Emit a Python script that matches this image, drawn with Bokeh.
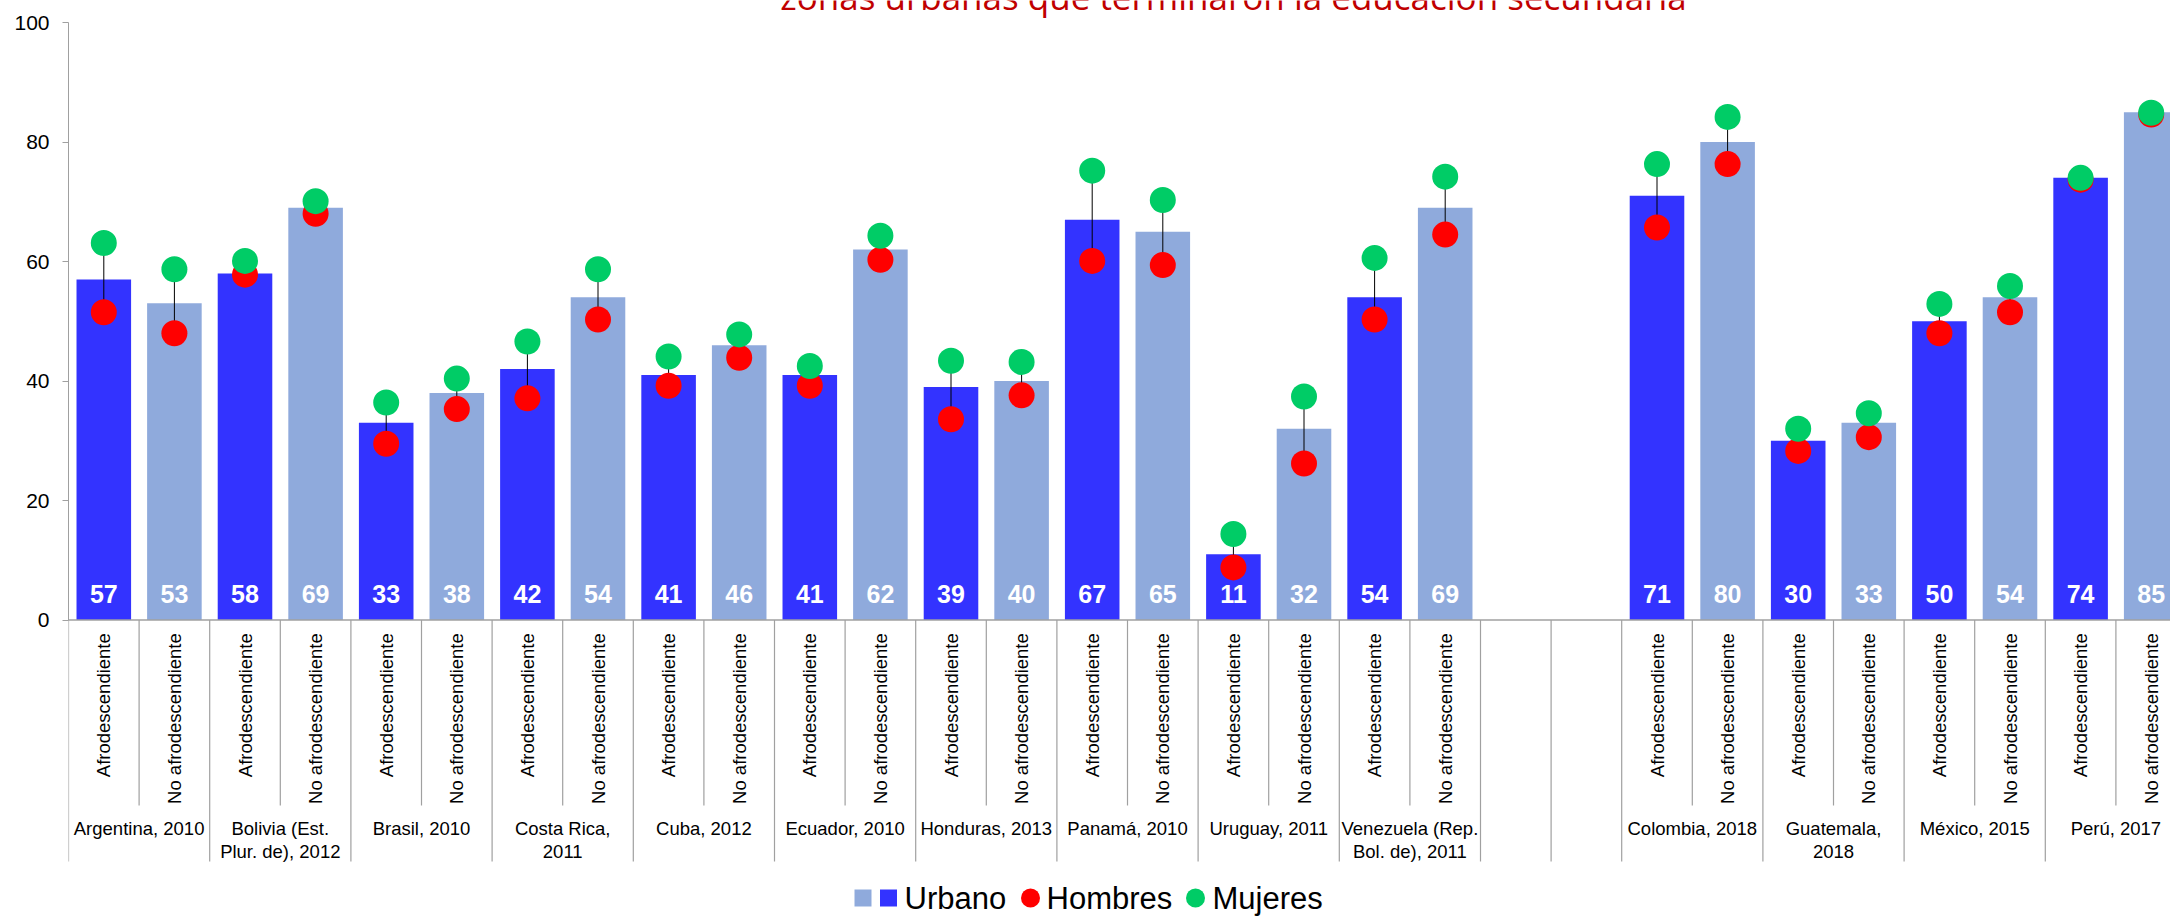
import numpy as np
from bokeh.plotting import figure
from bokeh.models import ColumnDataSource, Range1d, FixedTicker, Span, Label
from bokeh.core.properties import value
from bokeh.embed import file_html
from bokeh.resources import INLINE

# ---------------- data ----------------
titulo = "zonas urbanas que terminaron la educación secundaria"
paises = ["Argentina, 2010", "Bolivia (Est.\nPlur. de), 2012", "Brasil, 2010",
          "Costa Rica,\n2011", "Cuba, 2012", "Ecuador, 2010", "Honduras, 2013",
          "Panamá, 2010", "Uruguay, 2011", "Venezuela (Rep.\nBol. de), 2011",
          "Colombia, 2018", "Guatemala,\n2018", "México, 2015", "Perú, 2017"]
subgrupos = ["Afrodescendiente", "No afrodescendiente"]
urbano_afro = [57, 58, 33, 42, 41, 41, 39, 67, 11, 54, 71, 30, 50, 74]
urbano_no_afro = [53, 69, 38, 54, 46, 62, 40, 65, 32, 69, 80, 33, 54, 85]
hombres_afro = [51.5, 57.8, 29.5, 37.1, 39.2, 39.2, 33.6, 60.1, 8.8, 50.3, 65.7, 28.3, 48.0, 73.7]
hombres_no_afro = [48.0, 68.0, 35.3, 50.3, 43.9, 60.3, 37.6, 59.4, 26.2, 64.5, 76.3, 30.6, 51.5, 84.6]
mujeres_afro = [63.1, 60.1, 36.4, 46.6, 44.1, 42.5, 43.4, 75.2, 14.4, 60.6, 76.3, 32.0, 52.9, 74.0]
mujeres_no_afro = [58.7, 70.1, 40.4, 58.7, 47.8, 64.3, 43.2, 70.3, 37.4, 74.2, 84.2, 34.6, 55.9, 84.9]
n_censos = 10          # countries before the blank gap
ticks_y = [0, 20, 40, 60, 80, 100]
leyenda = ["Urbano", "Hombres", "Mujeres"]

# ---------------- style / layout ----------------
C_AFRO, C_NO = "#3333FF", "#8FAADC"
C_H, C_M = "#FF0000", "#00CC66"
GRAY = "#A0A0A0"
FONT = "Liberation Sans"
W, H = 2170, 918
LEFT = 68
SLOT_PX = 70.6
PX_UNIT = 5.975
TOP_PAD_PX = 22
HUECO = 2
BAR_W = 0.773

x_end = (W - LEFT) / SLOT_PX
y_end = 100 + TOP_PAD_PX / PX_UNIT
y_start = y_end - H / PX_UNIT


def below(px):
    """data y for a point px pixels below the zero line"""
    return -px / PX_UNIT


def dx(px):
    return (px - LEFT) / SLOT_PX


n = len(paises)
base = [2 * i + (HUECO if i >= n_censos else 0) for i in range(n)]
x_afro = [b + 0.5 for b in base]
x_no = [b + 1.5 for b in base]

p = figure(width=W, height=H, x_range=Range1d(0, x_end), y_range=Range1d(y_start, y_end),
           output_backend="svg", toolbar_location=None, x_axis_location=None,
           min_border_left=LEFT, min_border_right=0, min_border_top=0, min_border_bottom=0)
p.outline_line_color = None
p.background_fill_color = "white"
p.border_fill_color = "white"
p.ygrid.grid_line_color = None
p.xgrid.grid_line_color = None

ax = p.yaxis[0]
ax.ticker = FixedTicker(ticks=ticks_y)
ax.bounds = (0, 100)
ax.axis_line_color = GRAY
ax.major_tick_line_color = GRAY
ax.major_tick_in = 0
ax.major_tick_out = 6
ax.minor_tick_line_color = None
ax.major_label_text_font = FONT
ax.major_label_text_font_size = "21px"
ax.major_label_text_color = "black"
ax.major_label_standoff = 13

# bars
urb = urbano_afro + urbano_no_afro
src_bar = ColumnDataSource(dict(
    x=x_afro + x_no, top=urb,
    color=[C_AFRO] * n + [C_NO] * n,
    label=[str(int(round(v))) for v in urb]))
p.vbar(x="x", top="top", bottom=0, width=BAR_W, fill_color="color", line_color=None, source=src_bar)

# zero line
p.add_layout(Span(location=0, dimension="width", line_color=GRAY, line_width=1.5))

# separators below the axis
inner = [b + 1 for b in base]
bounds = sorted(set(base) | {b + 2 for b in base} | {2 * n_censos + k for k in range(HUECO + 1)})
p.segment(x0=inner, x1=inner, y0=[0] * len(inner), y1=[below(185.5)] * len(inner),
          line_color=GRAY, line_width=1.2)
p.segment(x0=bounds, x1=bounds, y0=[0] * len(bounds), y1=[below(241.5)] * len(bounds),
          line_color=GRAY, line_width=1.2)

# connectors and dots
xs = x_afro + x_no
hom = hombres_afro + hombres_no_afro
muj = mujeres_afro + mujeres_no_afro
p.segment(x0=xs, x1=xs, y0=hom, y1=muj, line_color="black", line_width=1)
p.scatter(x=xs, y=hom, size=26, fill_color=C_H, line_color=None)
p.scatter(x=xs, y=muj, size=26, fill_color=C_M, line_color=None)

# value labels
p.text(x="x", y=26 / PX_UNIT, text="label", source=src_bar, text_color="white",
       text_font=value(FONT), text_font_style="bold", text_font_size="25px",
       text_align="center", text_baseline="middle")

# rotated sub-category labels
p.text(x=xs, y=[below(13.2)] * len(xs), text=[subgrupos[0]] * n + [subgrupos[1]] * n,
       angle=np.pi / 2, text_align="right", text_baseline="middle",
       text_font=value(FONT), text_font_size="18.5px", text_color="black")

# group labels
p.text(x=inner, y=[below(197.5)] * n, text=paises, text_align="center", text_baseline="top",
       text_font=value(FONT), text_font_size="18.5px", text_color="black", text_line_height=1.13)

# legend (manual, to reproduce the double swatch)
LEG_Y = below(278)
p.scatter(x=[dx(862.5)], y=[LEG_Y], marker="square", size=17, fill_color=C_NO, line_color=None)
p.scatter(x=[dx(888)], y=[LEG_Y], marker="square", size=17, fill_color=C_AFRO, line_color=None)
p.scatter(x=[dx(1030)], y=[LEG_Y], size=19, fill_color=C_H, line_color=None)
p.scatter(x=[dx(1195)], y=[LEG_Y], size=19, fill_color=C_M, line_color=None)
p.text(x=[dx(904), dx(1046), dx(1212)], y=[LEG_Y] * 3, text=leyenda,
       text_align="left", text_baseline="middle", text_font=value(FONT),
       text_font_size="31px", text_color="black")

# title (cropped at the top as in the original)
p.add_layout(Label(x=dx(1233), y=y_end + 4.5 / PX_UNIT, text=titulo, text_align="center",
                   text_baseline="middle", text_font="Open Sans", text_font_size="35px",
                   text_color="#C00000"))

open("out.html", "w").write(file_html(p, INLINE))
